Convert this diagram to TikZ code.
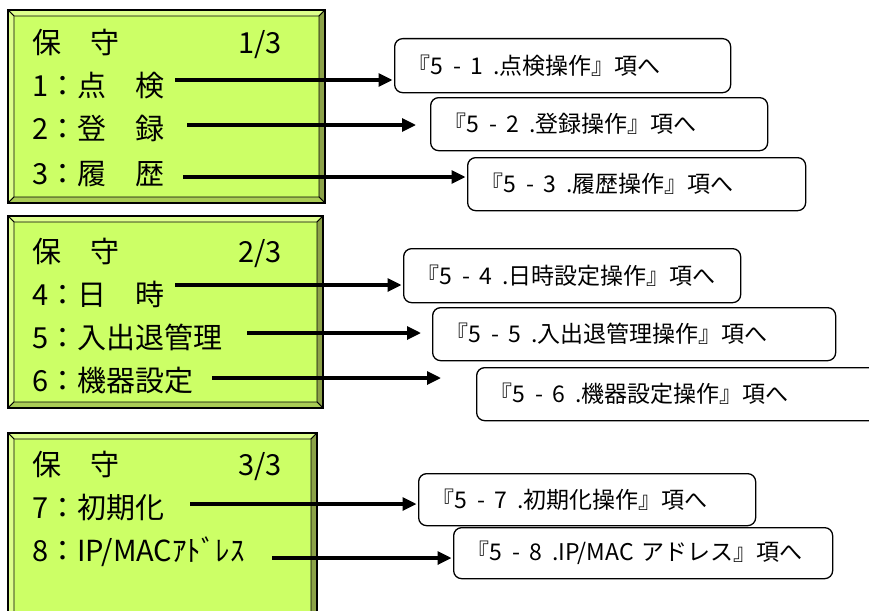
\documentclass[tikz,border=0pt]{standalone}
\usepackage{fontspec}
\setmainfont{Noto Sans CJK JP}
\newfontfamily\boxfont{Noto Sans CJK JP}
\newcommand\gp{\hspace{0.42em}}
\usetikzlibrary{arrows.meta}
\definecolor{lcd}{HTML}{CCFF66}
\definecolor{lcdhi}{HTML}{DDFF8C}
\definecolor{lcdright}{HTML}{8CA248}
\definecolor{lcdbot}{HTML}{AACC55}
\newcommand\bevelpanel[4]{%
  \fill[lcd] (#1,#2) rectangle (#3,#4);
  \filldraw[fill=lcdhi,draw=black,line width=0.8pt] (#1,#2) -- (#3,#2) -- (#3-6,#2+6) -- (#1+6,#2+6) -- cycle;
  \filldraw[fill=lcdhi,draw=black,line width=0.8pt] (#1,#2) -- (#1+6,#2+6) -- (#1+6,#4-6) -- (#1,#4) -- cycle;
  \filldraw[fill=lcdright,draw=black,line width=0.8pt] (#3,#2) -- (#3,#4) -- (#3-6,#4-6) -- (#3-6,#2+6) -- cycle;
  \filldraw[fill=lcdbot,draw=black,line width=0.8pt] (#1,#4) -- (#3,#4) -- (#3-6,#4-6) -- (#1+6,#4-6) -- cycle;
  \draw[line width=1.6pt] (#1,#2) rectangle (#3,#4);
}
\tikzset{
  menu/.style={anchor=base west, inner sep=0pt, font=\fontsize{29}{29}\selectfont},
  pageno/.style={anchor=base east, inner sep=0pt, font=\fontsize{29}{29}\selectfont},
  refbox/.style={draw, line width=1.3pt, rounded corners=8pt, anchor=north west,
    minimum height=#1, inner xsep=13pt, inner ysep=0pt, align=left,
    font=\boxfont\fontsize{23}{23}\selectfont},
  arr/.style={line width=3.2pt, -{Triangle[length=14pt,width=13pt]}},
}
\begin{document}
\begin{tikzpicture}[x=1pt,y=-1pt]
\useasboundingbox (0,0) rectangle (869,610);
\clip (0,0) rectangle (869,610);
\fill[white] (0,0) rectangle (869,610);
% panels
\bevelpanel{8}{10}{325}{203}
\bevelpanel{8}{216}{323}{408}
\bevelpanel{8}{433}{317}{640}
% panel 1
\node[menu] (p1t) at (32,54) {保　守};
\node[pageno] (p1n) at (282,54) {1/3};
\node[menu] (m1) at (32,96) {1：点　検};
\node[menu] (m2) at (32,139) {2：登　録};
\node[menu] (m3) at (32,184) {3：履　歴};
% panel 2
\node[menu] (p2t) at (32,262) {保　守};
\node[pageno] (p2n) at (282,262) {2/3};
\node[menu] (m4) at (32,305) {4：日　時};
\node[menu] (m5) at (32,348) {5：入出退管理};
\node[menu] (m6) at (32,391) {6：機器設定};
% panel 3
\node[menu] (p3t) at (32,475) {保　守};
\node[pageno] (p3n) at (282,475) {3/3};
\node[menu] (m7) at (32,518) {7：初期化};
\node[menu] (m8) at (32,561) {8：IP/MACｱﾄﾞﾚｽ};
% reference boxes
\node[refbox=54pt, text width=310pt] (b1) at (394,38) {『5\gp-\gp1\gp.点検操作』項へ};
\node[refbox=53pt, text width=311pt] (b2) at (430,97) {『5\gp-\gp2\gp.登録操作』項へ};
\node[refbox=53pt, text width=312pt] (b3) at (467,157) {『5\gp-\gp3\gp.履歴操作』項へ};
\node[refbox=54pt, text width=311pt] (b4) at (403,248) {『5\gp-\gp4\gp.日時設定操作』項へ};
\node[refbox=53pt, text width=377pt] (b5) at (432,307) {『5\gp-\gp5\gp.入出退管理操作』項へ};
\node[refbox=53pt, text width=418pt] (b6) at (476,367) {『5\gp-\gp6\gp.機器設定操作』項へ};
\node[refbox=52pt, text width=311pt] (b7) at (418,473) {『5\gp-\gp7\gp.初期化操作』項へ};
\node[refbox=51pt, text width=353pt] (b8) at (453,527) {『5\gp-\gp8\gp.IP/MAC アドレス』項へ};
% connector start points and free ends
\coordinate (s1) at (175,80);
\coordinate (s2) at (187,125);
\coordinate (s3) at (183,177);
\coordinate (s4) at (175,285);
\coordinate (s5) at (247,333);
\coordinate (s6) at (212,378);
\coordinate (s7) at (190,504);
\coordinate (s8) at (272,558);
\coordinate (t2) at (416,125);
\coordinate (t5) at (421,333);
\coordinate (t6) at (441,378);
% connectors
\draw[arr, shorten >=1.5pt] (s1) -- (s1 -| b1.west);
\draw[arr] (s2) -- (t2);
\draw[arr, shorten >=1.5pt] (s3) -- (s3 -| b3.west);
\draw[arr, shorten >=1.5pt] (s4) -- (s4 -| b4.west);
\draw[arr] (s5) -- (t5);
\draw[arr] (s6) -- (t6);
\draw[arr, shorten >=1.5pt] (s7) -- (s7 -| b7.west);
\draw[arr, shorten >=1.5pt] (s8) -- (s8 -| b8.west);
\end{tikzpicture}
\end{document}
